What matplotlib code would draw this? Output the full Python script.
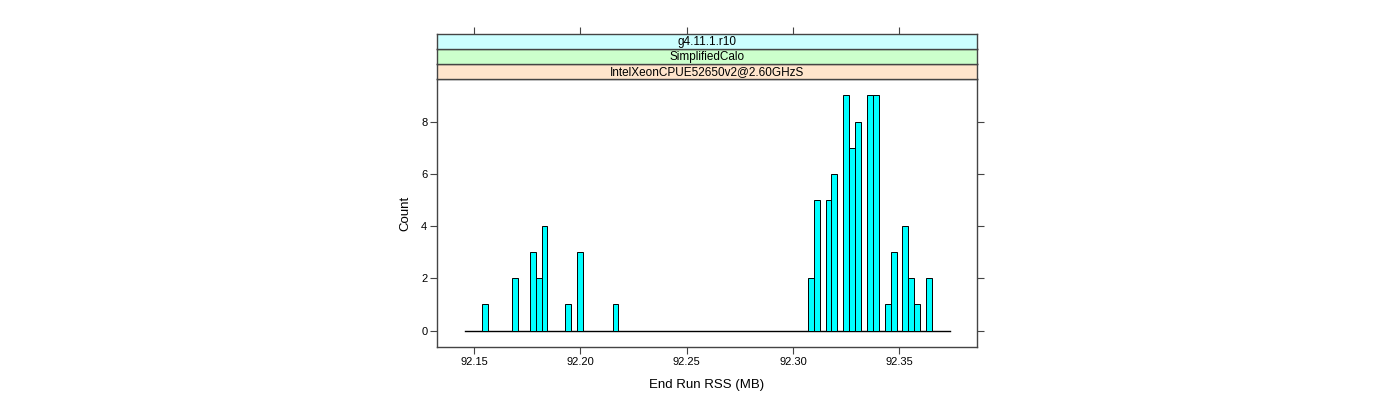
import numpy as np
import matplotlib
matplotlib.use("Agg")
import matplotlib.pyplot as plt

plt.rcParams['font.family'] = ['Liberation Sans', 'DejaVu Sans']

# histogram bins (End Run RSS in MB)
bin_lo = 92.1455
bin_hi = 92.3738
n_bins = 82
bin_centers = [92.15524, 92.16916, 92.17752, 92.18030, 92.18308, 92.19422,
               92.19979, 92.21649, 92.30836, 92.31115, 92.31672, 92.31950,
               92.32507, 92.32785, 92.33064, 92.33620, 92.33899, 92.34456,
               92.34734, 92.35291, 92.35569, 92.35848, 92.36404]
counts = [1, 2, 3, 2, 4, 1, 3, 1,
          2, 5, 5, 6, 9, 7, 8, 9, 9, 1, 3, 4, 2, 1, 2]
x_ticks = [92.15, 92.20, 92.25, 92.30, 92.35]
y_ticks = [0, 2, 4, 6, 8]
strips = ["IntelXeonCPUE52650v2@2.60GHzS", "SimplifiedCalo", "g4.11.1.r10"]
strip_cols = ["#ffe5cc", "#ccffcc", "#ccffff"]

W, H = 1400, 400
fig = plt.figure(figsize=(14, 4), dpi=100)
frame_col = "#444444"

# main panel
ax = fig.add_axes([437 / W, 53 / H, 540 / W, 268 / H])
bw = (bin_hi - bin_lo) / n_bins
ax.bar(bin_centers, counts, width=bw, color="#00ffff", edgecolor="black",
       linewidth=0.7, zorder=3)
ax.plot([bin_lo, bin_hi], [0, 0], color="black", lw=1.0, zorder=2)
ax.set_xlim(92.1325, 92.3866)
ax.set_ylim(-0.63, 9.63)
ax.set_xticks(x_ticks)
ax.set_xticklabels([f"{t:.2f}" for t in x_ticks])
ax.set_yticks(y_ticks)
ax.tick_params(axis="both", direction="out", length=5, width=0.8,
               color=frame_col, labelsize=8, pad=2)
ax.tick_params(axis="y", right=True, labelright=False)
for s in ax.spines.values():
    s.set_color(frame_col)
    s.set_linewidth(1.0)
ax.set_xlabel("End Run RSS (MB)", fontsize=9.5, labelpad=9)
ax.set_ylabel("Count", fontsize=9.5, labelpad=7)

# strips, stacked above the panel
sh = 15
for i, (txt, col) in enumerate(zip(strips, strip_cols)):
    sa = fig.add_axes([437 / W, (321 + i * sh) / H, 540 / W, sh / H])
    sa.set_facecolor(col)
    sa.set_xlim(ax.get_xlim())
    sa.set_yticks([])
    sa.text(0.5, 0.45, txt, transform=sa.transAxes, ha="center", va="center",
            fontsize=8.5)
    for s in sa.spines.values():
        s.set_color(frame_col)
        s.set_linewidth(1.0)
    if i == len(strips) - 1:
        sa.set_xticks(x_ticks)
        sa.tick_params(axis="x", bottom=False, labelbottom=False, top=True,
                       labeltop=False, direction="out", length=5, width=0.8,
                       color=frame_col)
    else:
        sa.set_xticks([])

fig.savefig("out.png", dpi=100)
